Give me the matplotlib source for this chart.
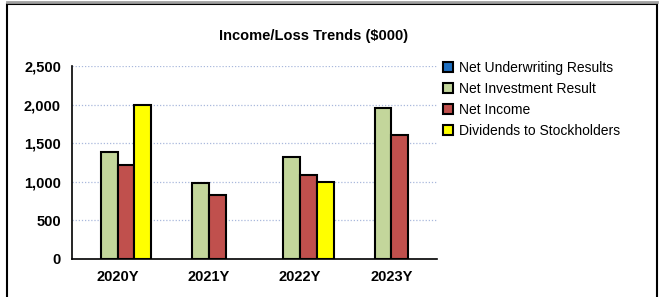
import matplotlib
matplotlib.use("Agg")
import matplotlib.pyplot as plt
from matplotlib.lines import Line2D
from matplotlib.patches import Rectangle
import numpy as np

years = ["2020Y", "2021Y", "2022Y", "2023Y"]
series_names = [
    "Net Underwriting Results",
    "Net Investment Result",
    "Net Income",
    "Dividends to Stockholders",
]
net_underwriting = [0, 0, 0, 0]
net_investment = [1385, 980, 1320, 1960]
net_income = [1215, 830, 1090, 1605]
dividends = [2000, 0, 1000, 0]
colors = ["#1f6fc0", "#c3d69b", "#c0504d", "#ffff00"]

plt.rcParams["font.family"] = ["Liberation Sans", "DejaVu Sans"]

fig = plt.figure(figsize=(6.6, 2.97), dpi=100)
ax = fig.add_axes([72 / 660, 38 / 297, 365 / 660, 193 / 297])

x = np.arange(len(years))
width = 0.183
all_series = [net_underwriting, net_investment, net_income, dividends]
for i, (vals, c) in enumerate(zip(all_series, colors)):
    offset = (i - 1.5) * width
    lw = [1.5 if v > 0 else 0 for v in vals]
    ax.bar(x + offset, vals, width, color=c, edgecolor="black", linewidth=lw,
           zorder=3)

ax.set_xlim(-0.5, len(years) - 0.5)
ax.set_ylim(0, 2500)
ax.set_yticks(range(0, 2501, 500))
ax.set_yticklabels([f"{v:,}" for v in range(0, 2501, 500)])
ax.set_xticks(x)
ax.set_xticklabels(years)
ax.tick_params(length=0, labelsize=10.5, pad=8)
for lab in ax.get_xticklabels() + ax.get_yticklabels():
    lab.set_fontweight("bold")
ax.yaxis.grid(True, color="#a9b8dc", linestyle=(0, (1, 1.5)), linewidth=0.9,
              zorder=0)
ax.spines["top"].set_visible(False)
ax.spines["right"].set_visible(False)
ax.spines["left"].set_linewidth(1.2)
ax.spines["bottom"].set_linewidth(1.2)
ax.spines["bottom"].set_zorder(4)

fig.text(314 / 660, 1 - 36 / 297, "Income/Loss Trends ($000)", ha="center",
         va="center", fontsize=10.5, fontweight="bold")

handles = [Line2D([], [], marker="s", linestyle="none", markersize=6.5,
                  markerfacecolor=c, markeredgecolor="black",
                  markeredgewidth=1.5) for c in colors]
fig.legend(handles, series_names, loc="upper left",
           bbox_to_anchor=(437 / 660, 1 - 55 / 297), frameon=False,
           fontsize=10, handlelength=0.8, handletextpad=0.4,
           labelspacing=0.52, borderaxespad=0)

# outer frame
fig.add_artist(Rectangle((7 / 660, -0.05), 650 / 660, 1 - 4 / 297 + 0.05,
                         transform=fig.transFigure, fill=False,
                         edgecolor="black", linewidth=1.5))
fig.add_artist(Line2D([7 / 660, 657 / 660], [1 - 1.5 / 297, 1 - 1.5 / 297],
                      transform=fig.transFigure, color="#a0a0a0",
                      linewidth=2))

fig.savefig("out.png", dpi=100)
